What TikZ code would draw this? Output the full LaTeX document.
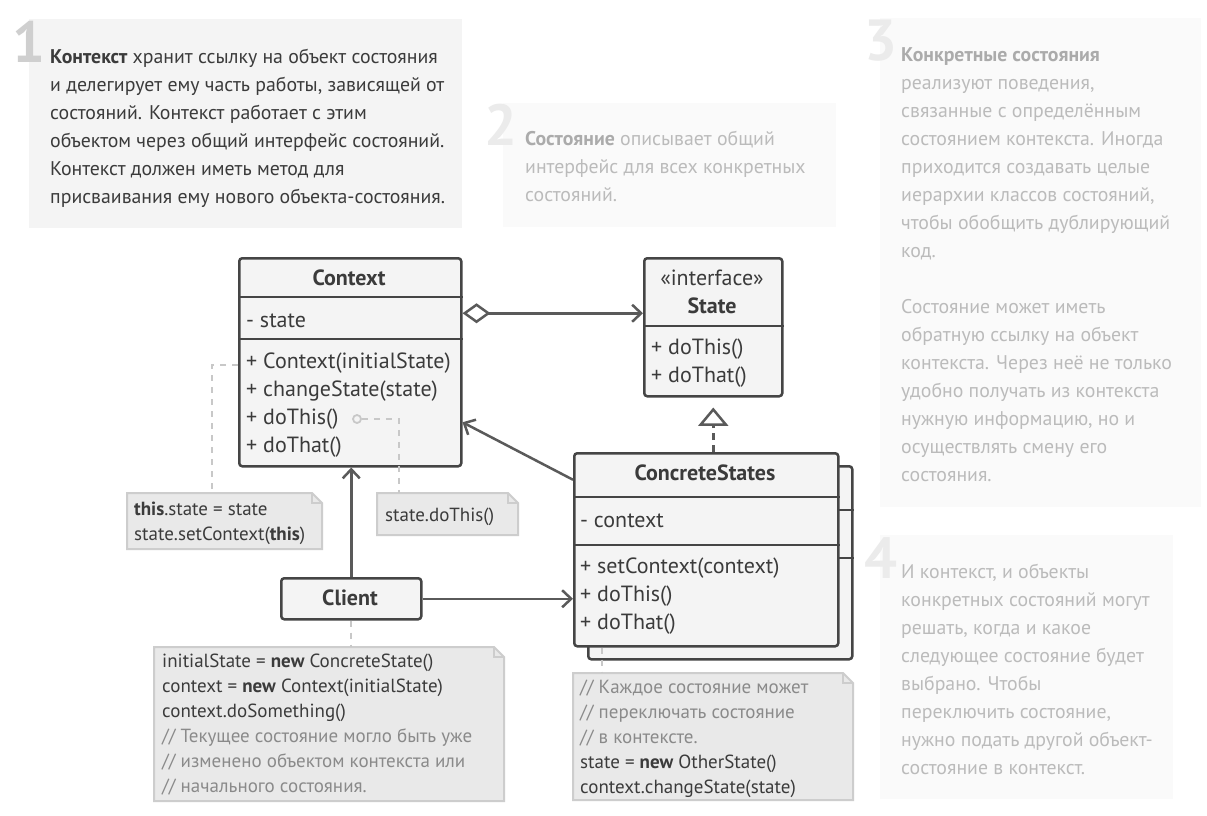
\documentclass[tikz,border=0pt]{standalone}
\usepackage{fontspec}
\setmainfont{PT Sans}
\usetikzlibrary{arrows.meta}

\definecolor{ink}{HTML}{3B3B3B}
\definecolor{pale}{HTML}{BBBBBB}
\definecolor{palebold}{HTML}{ABABAB}
\definecolor{digitA}{HTML}{CFCFCF}
\definecolor{digitB}{HTML}{EBEBEB}
\definecolor{panelA}{HTML}{F4F4F4}
\definecolor{panelB}{HTML}{FAFAFA}
\definecolor{classfill}{HTML}{F4F4F4}
\definecolor{classline}{HTML}{454545}
\definecolor{arrowline}{HTML}{5A5A5A}
\definecolor{notefill}{HTML}{E9E9E9}
\definecolor{noteline}{HTML}{CDCDCD}
\definecolor{comment}{HTML}{8A8A8A}
\definecolor{leader}{HTML}{C8C8C8}

% invisible strut that fixes the top of a multi-line text block
\newcommand\toprule[1]{\rule{0pt}{#1}}

\tikzset{
  panelbox/.style={inner sep=0, outer sep=0, anchor=north west, draw=none},
  ptext/.style={inner sep=0, anchor=north west, align=left,
    font=\fontsize{19.8}{28}\selectfont},
  digit/.style={inner sep=0, anchor=base east,
    font=\fontsize{58}{58}\selectfont\bfseries},
  classbox/.style={draw=classline, fill=classfill, line width=2.5pt,
    rounded corners=3pt, inner sep=0, anchor=north west},
  sepline/.style={draw=classline, line width=2.5pt},
  member/.style={inner sep=0, anchor=base west, text=ink,
    font=\fontsize{22}{26}\selectfont},
  ctitle/.style={inner sep=0, anchor=base, text=ink,
    font=\fontsize{22}{26}\selectfont\bfseries},
  notebox/.style={inner sep=0, outer sep=0, anchor=north west, draw=none},
  noteedge/.style={fill=notefill, draw=noteline, line width=2pt},
  ntext/.style={inner sep=0, anchor=north west, align=left, text=ink,
    font=\fontsize{19}{25}\selectfont},
  link/.style={draw=arrowline, line width=2.5pt},
  openhead/.style={-{Straight Barb[length=9pt,width=17pt,line width=2.5pt]}},
  leaderline/.style={draw=leader, line width=2pt, dash pattern=on 6pt off 6pt},
}

\newcommand\notefold[2]{% #1 node name, #2 fold size
  \filldraw[noteedge] (#1.north west) -- ([xshift=-#2]#1.north east)
    -- ([yshift=-#2]#1.north east) -- (#1.south east) -- (#1.south west) -- cycle;
  \draw[noteedge, fill=none] ([xshift=-#2]#1.north east) |- ([yshift=-#2]#1.north east);
}

\begin{document}
\begin{tikzpicture}[x=1pt, y=-1pt]
\useasboundingbox[fill=white] (0,0) rectangle (1207,816);

% ---------- explanatory panels ----------
\node[panelbox, fill=panelA, minimum width=433pt, minimum height=209pt] (p1) at (29,19) {};
\node[panelbox, fill=panelB, minimum width=333pt, minimum height=124pt] (p2) at (503,103) {};
\node[panelbox, fill=panelB, minimum width=321pt, minimum height=489pt] (p3) at (880,18) {};
\node[panelbox, fill=panelB, minimum width=293pt, minimum height=264pt] (p4) at (880,535) {};

\node[digit, text=digitA] (d1) at (46,63) {1};
\node[digit, text=digitB] (d2) at (518,145) {2};
\node[digit, text=digitB] (d3) at (898,61) {3};
\node[digit, text=digitB] (d4) at (898,578) {4};

\node[ptext, text=ink] (t1) at (50,41) {\toprule{22pt}{\bfseries Контекст} хранит ссылку на объект состояния\\
и делегирует ему часть работы, зависящей от\\
состояний. Контекст работает с этим\\
объектом через общий интерфейс состояний.\\
Контекст должен иметь метод для\\
присваивания ему нового объекта-состояния.};

\node[ptext, text=pale] (t2) at (525,123) {\toprule{22pt}{\bfseries\color{palebold}Состояние} описывает общий\\
интерфейс для всех конкретных\\
состояний.};

\node[ptext, text=pale] (t3) at (901,39) {\toprule{22pt}{\bfseries\color{palebold}Конкретные состояния}\\
реализуют поведения,\\
связанные с определённым\\
состоянием контекста. Иногда\\
приходится создавать целые\\
иерархии классов состояний,\\
чтобы обобщить дублирующий\\
код.\\[28pt]
Состояние может иметь\\
обратную ссылку на объект\\
контекста. Через неё не только\\
удобно получать из контекста\\
нужную информацию, но и\\
осуществлять смену его\\
состояния.};

\node[ptext, text=pale] (t4) at (901,556) {\toprule{22pt}И контекст, и объекты\\
конкретных состояний могут\\
решать, когда и какое\\
следующее состояние будет\\
выбрано. Чтобы\\
переключить состояние,\\
нужно подать другой объект-\\
состояние в контекст.};

% ---------- Context ----------
\node[classbox, minimum width=222pt, minimum height=208pt] (ctx) at (238,257) {};
\draw[sepline] (ctx.west |- 0,297) -- (ctx.east |- 0,297);
\draw[sepline] (ctx.west |- 0,339) -- (ctx.east |- 0,339);
\node[ctitle] (ctxname) at (349,285) {Context};
\node[member] (ctxa1) at (246,327) {- state};
\node[member] (ctxm1) at (246,368) {+ Context(initialState)};
\node[member] (ctxm2) at (246,396) {+ changeState(state)};
\node[member] (ctxm3) at (246,424) {+ doThis()};
\node[member] (ctxm4) at (246,452) {+ doThat()};

% ---------- State ----------
\node[classbox, minimum width=138pt, minimum height=138pt] (st) at (643,257) {};
\draw[sepline] (st.west |- 0,326) -- (st.east |- 0,326);
\node[inner sep=0, anchor=base, text=ink, font=\fontsize{22}{26}\selectfont] (stster) at (712,285) {«interface»};
\node[ctitle] (stname) at (712,313) {State};
\node[member] (stm1) at (651,354) {+ doThis()};
\node[member] (stm2) at (651,382) {+ doThat()};

% ---------- ConcreteStates (stacked) ----------
\node[classbox, minimum width=264pt, minimum height=193pt] (csback) at (587,465) {};
\draw[sepline] (csback.west |- 0,510) -- (csback.east |- 0,510);
\draw[sepline] (csback.west |- 0,558) -- (csback.east |- 0,558);
\node[classbox, minimum width=264pt, minimum height=193pt] (cs) at (573,452) {};
\draw[sepline] (cs.west |- 0,497) -- (cs.east |- 0,497);
\draw[sepline] (cs.west |- 0,545) -- (cs.east |- 0,545);
\node[ctitle] (csname) at (705,480) {ConcreteStates};
\node[member] (csa1) at (580,527) {- context};
\node[member] (csm1) at (580,573) {+ setContext(context)};
\node[member] (csm2) at (580,601) {+ doThis()};
\node[member] (csm3) at (580,629) {+ doThat()};

% ---------- Client ----------
\node[classbox, minimum width=140pt, minimum height=41pt] (cl) at (280,577) {};
\node[ctitle] (clname) at (350,605) {Client};

% ---------- relations ----------
\draw[link, {Diamond[open,length=28pt,width=20pt,line width=2.5pt,fill=white]}-{Straight Barb[length=9pt,width=17pt,line width=2.5pt]}]
  ([yshift=49pt]ctx.east) -- ([yshift=14pt]st.west);
\draw[link, openhead] ([yshift=70pt]cs.west) -- ([yshift=-60pt]ctx.east);
\draw[link, openhead] (cl.north) -- (cl.north |- ctx.south);
\draw[link, openhead] (cl.east) -- (cl.east -| cs.west);
% realization: dashed stem and hollow triangle kept clear of the interface box
\draw[link, dash pattern=on 7pt off 5pt]
  (st.south |- cs.north) -- ([yshift=-27pt]st.south);
\draw[link, fill=white, line join=miter]
  ([yshift=-12pt]st.south) -- ([xshift=12.5pt,yshift=-27pt]st.south)
  -- ([xshift=-12.5pt,yshift=-27pt]st.south) -- cycle;

% ---------- notes ----------
\node[notebox, minimum width=195pt, minimum height=56pt] (n1) at (127,493) {};
\notefold{n1}{10pt}
\node[ntext] (n1t) at (134,495) {\toprule{20pt}{\bfseries this}.state = state\\
state.setContext({\bfseries this})};

\node[notebox, minimum width=141pt, minimum height=42pt] (n2) at (377,493) {};
\notefold{n2}{10pt}
\node[ntext] (n2t) at (385,501) {\toprule{20pt}state.doThis()};

\node[notebox, minimum width=350pt, minimum height=154pt] (n3) at (154,647) {};
\notefold{n3}{10pt}
\node[ntext] (n3t) at (162,647) {\toprule{20pt}initialState = {\bfseries new} ConcreteState()\\
context = {\bfseries new} Context(initialState)\\
context.doSomething()\\
{\color{comment}// Текущее состояние могло быть уже}\\
{\color{comment}// изменено объектом контекста или}\\
{\color{comment}// начального состояния.}};

\node[notebox, minimum width=280pt, minimum height=127pt] (n4) at (573,673) {};
\notefold{n4}{10pt}
\node[ntext] (n4t) at (580,673) {\toprule{20pt}{\color{comment}// Каждое состояние может}\\
{\color{comment}// переключать состояние}\\
{\color{comment}// в контексте.}\\
state = {\bfseries new} OtherState()\\
context.changeState(state)};

% ---------- note leaders ----------
\node[circle, draw=leader, line width=1.8pt, fill=classfill, minimum size=8pt, inner sep=0] (dot) at (357,419) {};
\draw[leaderline] ([yshift=-3pt]ctx.west) -| ([xshift=-12.5pt]n1.north);
\draw[leaderline] (dot.east) -| ([xshift=-48.5pt]n2.north);
\draw[leaderline] (cl.south) -- (cl.south |- n3.north);
\draw[leaderline] ([xshift=-104pt]cs.south) -- ([xshift=-104pt]cs.south |- n4.north);
\end{tikzpicture}
\end{document}
